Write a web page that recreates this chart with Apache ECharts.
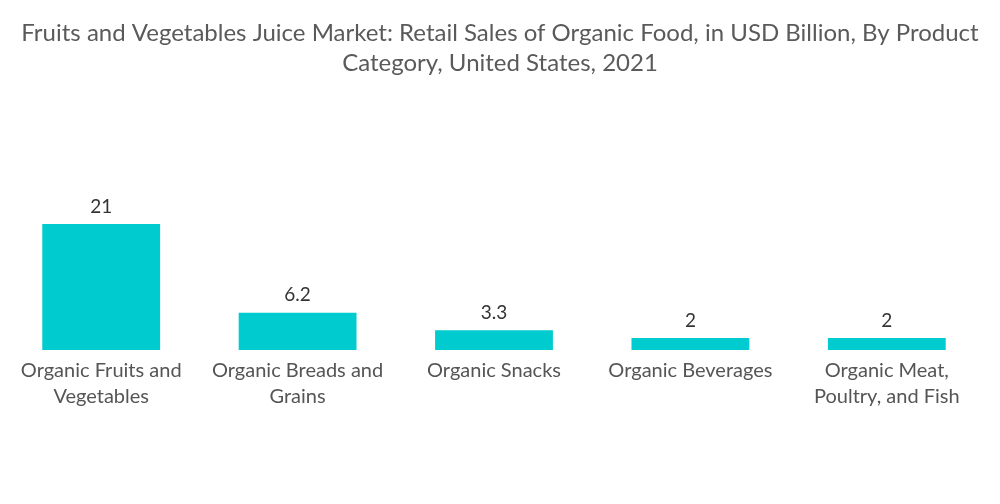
<!DOCTYPE html>
<html>
<head>
<meta charset="utf-8">
<script src="https://cdn.jsdelivr.net/npm/echarts@6/dist/echarts.min.js"></script>
<style>html,body{margin:0;padding:0;background:#fff;}#c{width:1000px;height:504px;}</style>
</head>
<body>
<div id="c"></div>
<script>
var titleText = 'Fruits and Vegetables Juice Market: Retail Sales of Organic Food, in USD Billion, By Product\nCategory, United States, 2021';
var categories = ['Organic Fruits and\nVegetables', 'Organic Breads and\nGrains', 'Organic Snacks', 'Organic Beverages', 'Organic Meat,\nPoultry, and Fish'];
var values = [21, 6.2, 3.3, 2, 2];

var chart = echarts.init(document.getElementById('c'));
chart.setOption({
  animation: false,
  title: {
    text: titleText,
    left: 'center',
    top: 13,
    textStyle: { fontFamily: 'Lato', fontSize: 24, fontWeight: 'normal', color: '#5a5a5a', lineHeight: 30 }
  },
  grid: { left: 3, right: 15, top: 224, bottom: 154, containLabel: false },
  xAxis: {
    type: 'category',
    data: categories,
    axisLine: { show: false },
    axisTick: { show: false },
    axisLabel: { interval: 0, fontFamily: 'Lato', fontSize: 20, color: '#555', lineHeight: 26, margin: 8 }
  },
  yAxis: {
    type: 'value', min: 0, max: 21, show: false, splitLine: { show: false }
  },
  series: [{
    type: 'bar',
    data: values,
    barWidth: '60%',
    itemStyle: { color: '#00cccf' },
    label: { show: true, position: 'top', distance: 8, fontFamily: 'Lato', fontSize: 19, color: '#333' }
  }]
});
</script>
</body>
</html>
